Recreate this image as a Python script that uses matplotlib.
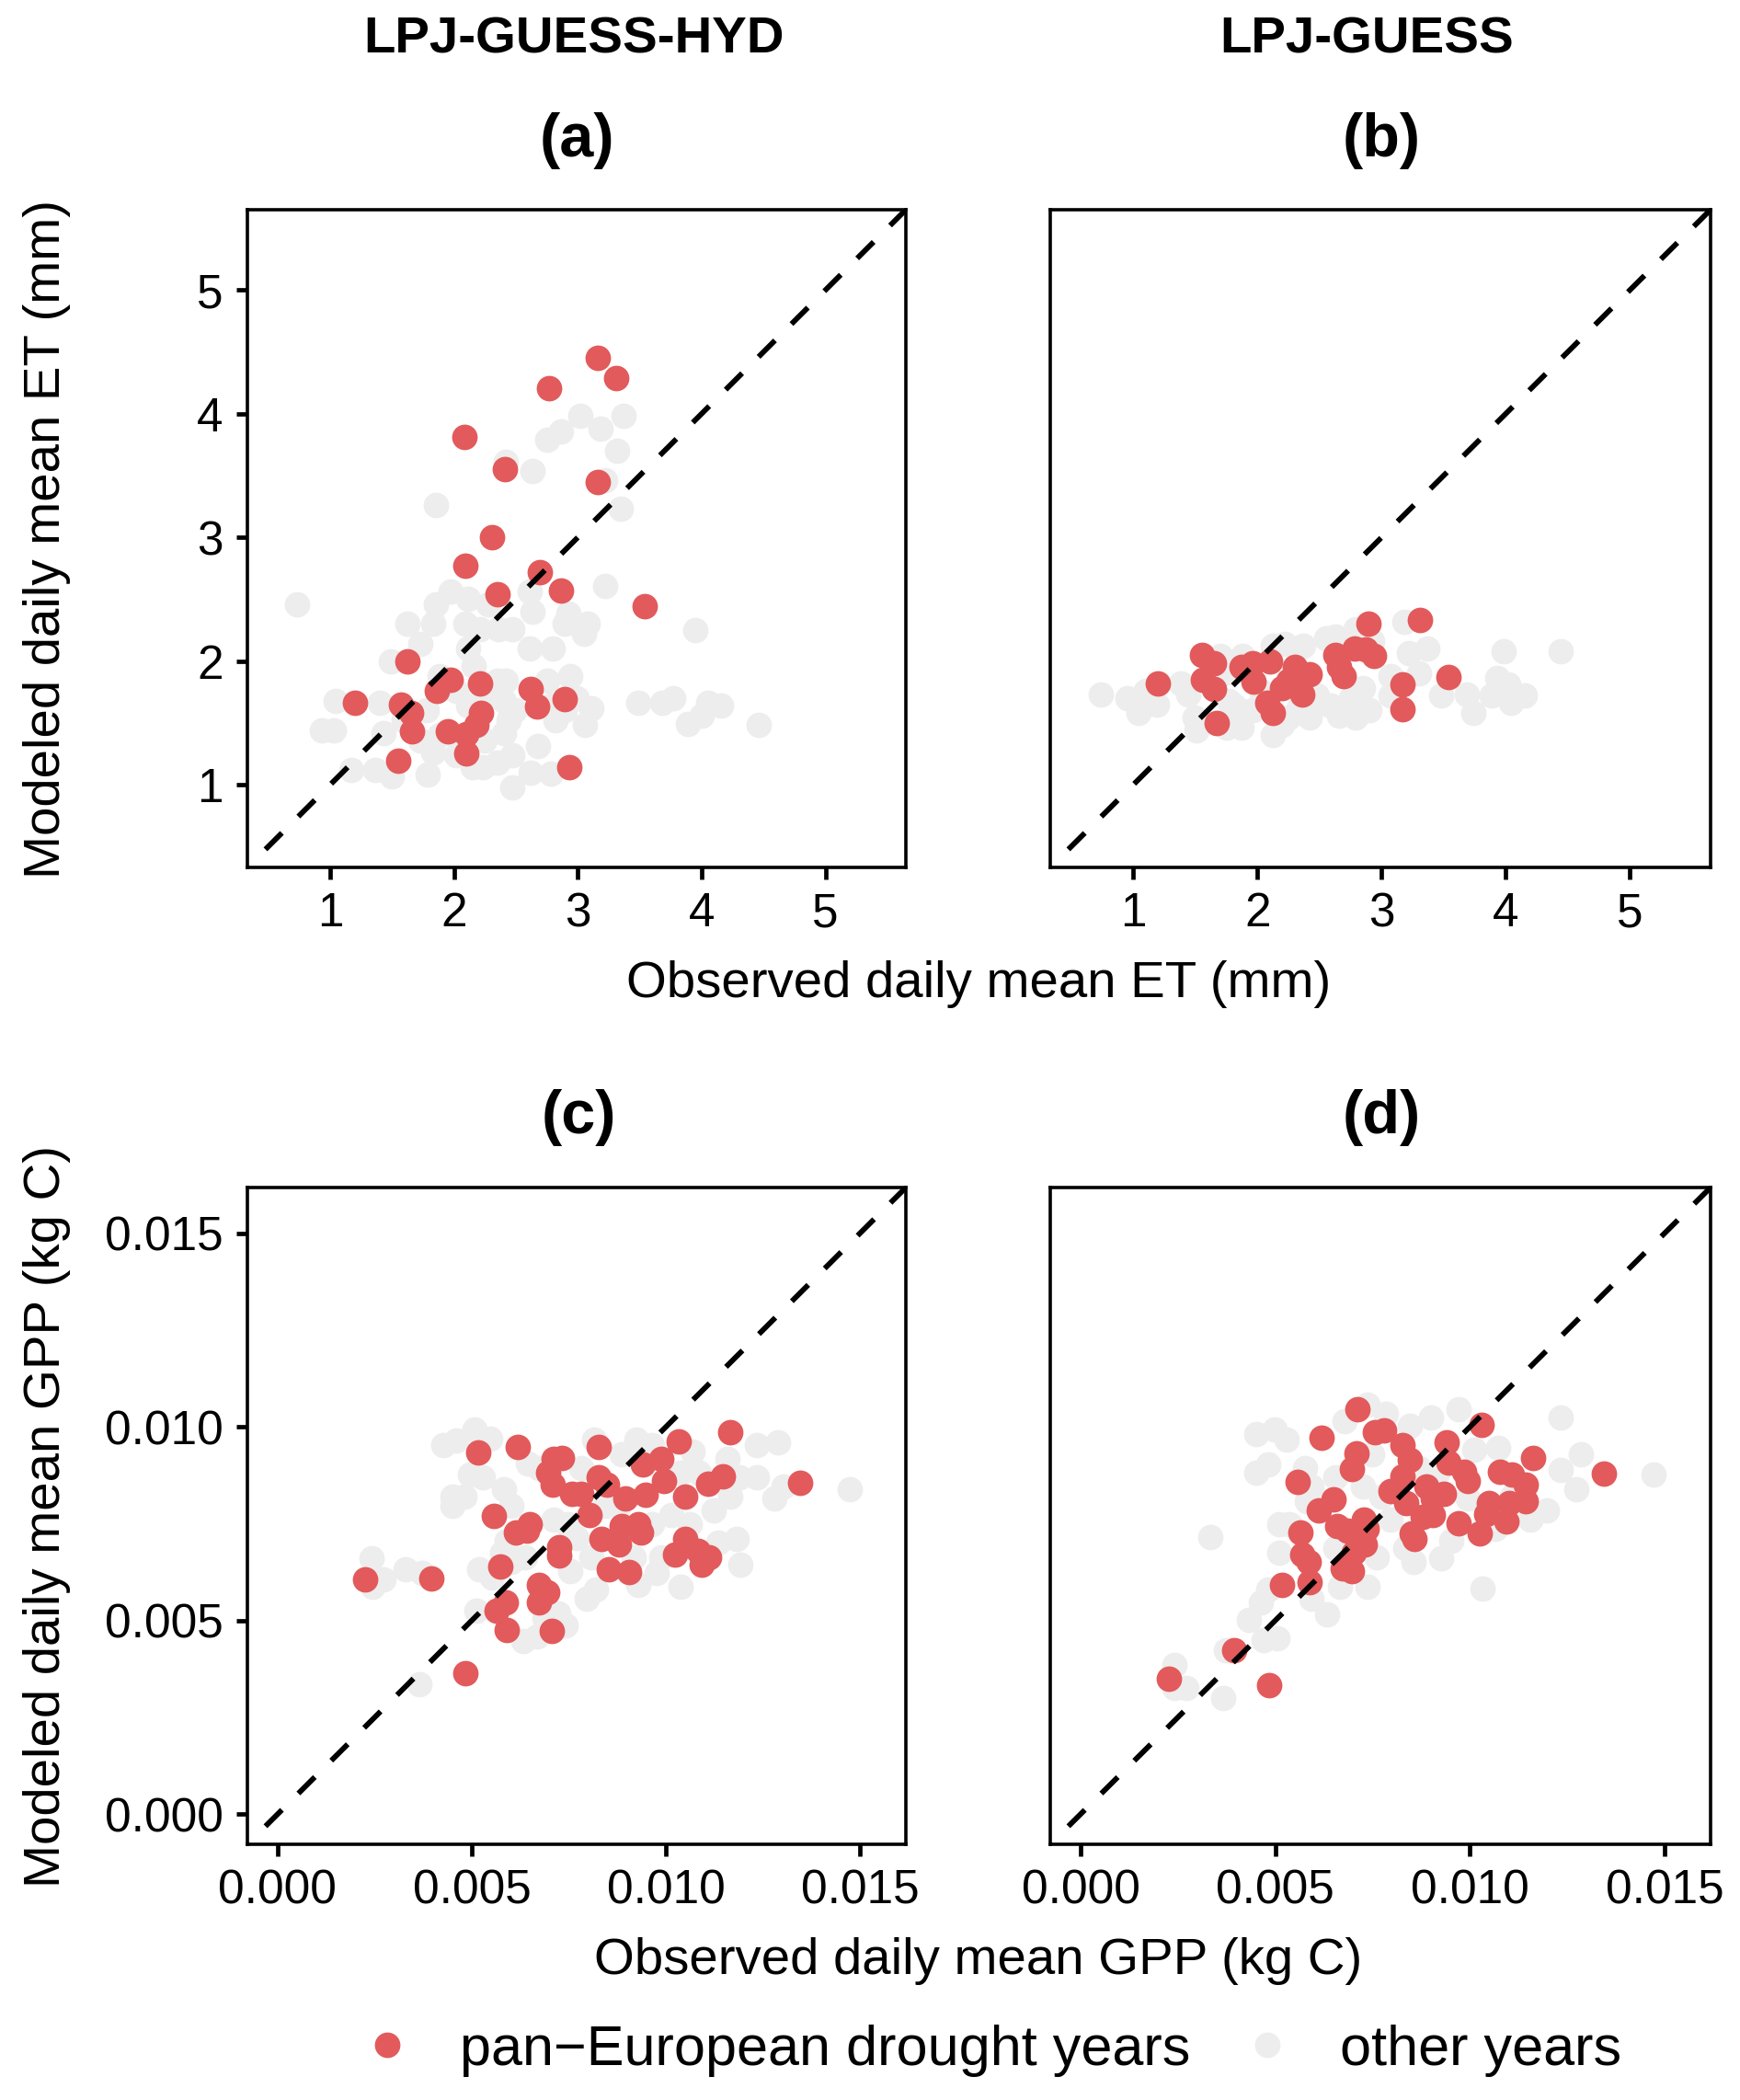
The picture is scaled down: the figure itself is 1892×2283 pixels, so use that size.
import numpy as np
import matplotlib.pyplot as plt
from matplotlib.lines import Line2D

plt.rcParams['font.family'] = ['Liberation Sans', 'DejaVu Sans']

# === Datos ===
# ET, LPJ-GUESS-HYD (a)
a_red_x = [3.16, 3.31, 2.77, 2.08, 2.41, 3.16, 2.31, 2.09, 2.69, 2.35, 2.86, 3.54, 1.62, 1.97, 1.86,
           2.21, 1.20, 1.57, 1.65, 1.66, 1.95, 2.10, 2.18, 2.22, 2.62, 2.67, 2.89, 2.10, 1.55, 2.93]
a_red_y = [4.45, 4.29, 4.21, 3.81, 3.55, 3.45, 3.00, 2.77, 2.72, 2.54, 2.57, 2.44, 2.00, 1.85, 1.76,
           1.82, 1.66, 1.65, 1.58, 1.43, 1.43, 1.41, 1.48, 1.58, 1.77, 1.63, 1.69, 1.25, 1.19, 1.14]
a_grey_x = [0.73, 1.85, 2.42, 2.63, 2.75, 2.86, 3.02, 3.18, 3.37, 3.32, 3.22, 3.35, 3.22, 3.95, 4.46,
            3.89, 4.00, 4.05, 4.16, 3.49, 3.68, 3.77, 3.11, 3.06, 3.05, 3.08, 2.92, 2.89, 2.94, 2.80,
            2.61, 2.63, 2.61, 2.47, 2.36, 2.21, 2.09, 2.28, 2.11, 1.97, 1.85, 1.83, 1.62, 1.73, 1.49,
            2.11, 2.16, 1.88, 2.42, 2.40, 2.49, 2.44, 2.40, 2.75, 2.82, 2.78, 2.99, 2.89, 2.68, 2.47,
            2.62, 2.78, 2.47, 2.23, 2.15, 2.02, 1.79, 1.83, 1.73, 1.50, 1.36, 1.17, 1.43, 1.40, 1.04,
            0.93, 1.03, 1.59, 1.78, 1.88, 2.04, 2.25, 2.35, 2.11, 2.28, 2.35, 2.02]
a_grey_y = [2.46, 3.26, 3.61, 3.54, 3.79, 3.86, 3.98, 3.88, 3.98, 3.70, 3.46, 3.23, 2.61, 2.25, 1.48,
            1.49, 1.56, 1.66, 1.64, 1.66, 1.66, 1.70, 1.62, 1.48, 2.22, 2.30, 2.38, 2.30, 1.88, 2.10,
            2.10, 2.40, 2.56, 2.26, 2.26, 2.26, 2.30, 2.46, 2.50, 2.56, 2.46, 2.30, 2.30, 2.14, 2.00,
            2.10, 1.96, 1.88, 1.84, 1.68, 1.60, 1.52, 1.42, 1.84, 1.52, 1.64, 1.70, 1.60, 1.31, 1.24,
            1.10, 1.09, 0.98, 1.14, 1.14, 1.24, 1.08, 1.26, 1.36, 1.07, 1.12, 1.12, 1.42, 1.66, 1.68,
            1.44, 1.44, 1.52, 1.60, 1.40, 1.36, 1.36, 1.18, 1.64, 1.72, 1.84, 1.76]

# ET, LPJ-GUESS (b)
b_red_x = [1.20, 1.55, 1.65, 1.56, 1.65, 1.67, 1.87, 1.96, 1.97, 2.10, 2.08, 2.12, 2.20, 2.30,
           2.25, 2.42, 2.36, 2.63, 2.66, 2.69, 2.78, 2.87, 2.94, 2.89, 3.31, 3.17, 3.17, 3.54]
b_red_y = [1.82, 2.05, 1.98, 1.85, 1.77, 1.50, 1.95, 1.98, 1.83, 2.00, 1.66, 1.58, 1.78, 1.95,
           1.84, 1.89, 1.73, 2.05, 1.95, 1.88, 2.10, 2.09, 2.04, 2.30, 2.33, 1.81, 1.61, 1.87]
b_grey_x = [0.74, 0.95, 1.04, 1.10, 1.19, 1.38, 1.44, 1.49, 1.51, 1.70, 1.75, 1.87, 1.81, 1.88,
            2.12, 2.12, 2.22, 2.37, 2.25, 2.42, 2.48, 2.55, 2.63, 2.66, 2.79, 2.79, 2.90, 2.92,
            3.07, 3.18, 3.22, 3.37, 3.30, 3.48, 3.69, 3.74, 3.89, 3.93, 4.02, 4.04, 4.15, 3.98,
            4.44, 3.07, 2.03, 1.96, 2.40, 2.59, 2.75, 2.85, 2.33, 2.20, 1.73, 1.77]
b_grey_y = [1.73, 1.70, 1.58, 1.76, 1.65, 1.82, 1.73, 1.54, 1.44, 2.04, 1.46, 1.46, 1.64, 2.04,
            1.40, 2.12, 2.14, 2.12, 1.54, 1.54, 1.72, 2.18, 2.20, 1.56, 1.54, 2.26, 1.60, 2.16,
            1.88, 2.32, 2.06, 2.10, 1.90, 1.72, 1.73, 1.58, 1.72, 1.86, 1.81, 1.66, 1.72, 2.08,
            2.08, 1.72, 1.76, 1.60, 1.64, 1.64, 1.70, 1.78, 1.62, 1.48, 1.90, 1.68]

# GPP, LPJ-GUESS-HYD (c)
c_red_x = [0.00226, 0.00396, 0.00483, 0.00517, 0.00619, 0.00557, 0.00573, 0.00565, 0.00587, 0.00590,
           0.00705, 0.00614, 0.00650, 0.00642, 0.00674, 0.00695, 0.00674, 0.00726, 0.00726, 0.00711,
           0.00732, 0.00696, 0.00708, 0.00759, 0.00781, 0.00803, 0.00828, 0.00828, 0.00847, 0.00835,
           0.00880, 0.00886, 0.00929, 0.00935, 0.00854, 0.00904, 0.00895, 0.00947, 0.00941, 0.00989,
           0.00995, 0.01032, 0.01050, 0.01050, 0.01023, 0.01082, 0.01110, 0.01092, 0.01108, 0.01147,
           0.01165, 0.01346]
c_red_y = [0.00606, 0.00609, 0.00365, 0.00935, 0.00947, 0.00771, 0.00639, 0.00525, 0.00546, 0.00475,
           0.00473, 0.00728, 0.00749, 0.00731, 0.00592, 0.00574, 0.00547, 0.00690, 0.00667, 0.00918,
           0.00920, 0.00882, 0.00851, 0.00827, 0.00827, 0.00773, 0.00948, 0.00870, 0.00851, 0.00710,
           0.00697, 0.00743, 0.00749, 0.00728, 0.00632, 0.00624, 0.00815, 0.00824, 0.00902, 0.00918,
           0.00860, 0.00963, 0.00821, 0.00710, 0.00670, 0.00679, 0.00662, 0.00643, 0.00854, 0.00872,
           0.00985, 0.00855]
c_grey_x = [0.00242, 0.00245, 0.00272, 0.00329, 0.00372, 0.00366, 0.00511, 0.00519, 0.00553, 0.00450,
            0.00450, 0.00481, 0.00426, 0.00460, 0.00507, 0.00547, 0.00495, 0.00529, 0.00584, 0.00644,
            0.00674, 0.00602, 0.00590, 0.00578, 0.00602, 0.00638, 0.00632, 0.00668, 0.00741, 0.00686,
            0.00723, 0.00711, 0.00747, 0.00771, 0.00753, 0.00795, 0.00820, 0.00783, 0.00814, 0.00886,
            0.00923, 0.00965, 0.01068, 0.01086, 0.01038, 0.01159, 0.01189, 0.01165, 0.01122, 0.01183,
            0.01134, 0.01191, 0.01038, 0.00977, 0.00929, 0.00965, 0.01013, 0.01062, 0.00989, 0.00916,
            0.00880, 0.01234, 0.01289, 0.01234, 0.01280, 0.01304, 0.01473, 0.00844, 0.00808]
c_grey_y = [0.00661, 0.00586, 0.00606, 0.00632, 0.00622, 0.00335, 0.00525, 0.00632, 0.00612, 0.00821,
            0.00795, 0.00821, 0.00952, 0.00964, 0.00993, 0.00970, 0.00876, 0.00870, 0.00839, 0.00906,
            0.00894, 0.00797, 0.00707, 0.00676, 0.00652, 0.00664, 0.00447, 0.00459, 0.00487, 0.00507,
            0.00519, 0.00761, 0.00749, 0.00713, 0.00628, 0.00556, 0.00580, 0.00894, 0.00966, 0.00930,
            0.00966, 0.00954, 0.00936, 0.00882, 0.00882, 0.00918, 0.00870, 0.00821, 0.00785, 0.00710,
            0.00700, 0.00644, 0.00586, 0.00622, 0.00592, 0.00749, 0.00773, 0.00749, 0.00664, 0.00664,
            0.00797, 0.00954, 0.00960, 0.00870, 0.00815, 0.00845, 0.00839, 0.00797, 0.00664]

# GPP, LPJ-GUESS (d)
d_red_x = [0.00227, 0.00394, 0.00484, 0.00517, 0.00588, 0.00558, 0.00564, 0.00570, 0.00585, 0.00618,
           0.00612, 0.00650, 0.00660, 0.00684, 0.00672, 0.00696, 0.00702, 0.00731, 0.00728, 0.00735,
           0.00696, 0.00708, 0.00710, 0.00755, 0.00779, 0.00827, 0.00845, 0.00827, 0.00797, 0.00835,
           0.00851, 0.00857, 0.00878, 0.00905, 0.00887, 0.00905, 0.00934, 0.00940, 0.00944, 0.00984,
           0.00994, 0.00970, 0.01024, 0.01029, 0.01048, 0.01042, 0.01078, 0.01107, 0.01101, 0.01093,
           0.01143, 0.01143, 0.01163, 0.01344]
d_red_y = [0.00350, 0.00423, 0.00332, 0.00592, 0.00598, 0.00857, 0.00727, 0.00670, 0.00652, 0.00972,
           0.00785, 0.00812, 0.00743, 0.00731, 0.00634, 0.00628, 0.00674, 0.00697, 0.00761, 0.00737,
           0.00891, 0.00932, 0.01045, 0.00987, 0.00990, 0.00952, 0.00914, 0.00872, 0.00833, 0.00803,
           0.00725, 0.00710, 0.00767, 0.00773, 0.00845, 0.00815, 0.00827, 0.00960, 0.00908, 0.00885,
           0.00860, 0.00751, 0.00725, 0.01006, 0.00803, 0.00775, 0.00884, 0.00878, 0.00803, 0.00755,
           0.00851, 0.00809, 0.00920, 0.00879]
d_grey_x = [0.00242, 0.00242, 0.00272, 0.00365, 0.00374, 0.00332, 0.00433, 0.00463, 0.00469, 0.00505,
            0.00481, 0.00511, 0.00511, 0.00451, 0.00499, 0.00529, 0.00451, 0.00481, 0.00582, 0.00576,
            0.00594, 0.00634, 0.00666, 0.00737, 0.00761, 0.00678, 0.00737, 0.00785, 0.00845, 0.00899,
            0.00970, 0.01072, 0.01233, 0.01286, 0.01233, 0.01274, 0.01471, 0.01197, 0.01155, 0.01066,
            0.01033, 0.00926, 0.00854, 0.00833, 0.00952, 0.00773, 0.00797, 0.00725, 0.00654, 0.00594,
            0.00994, 0.01012, 0.01107, 0.00869, 0.00916, 0.00749, 0.00535, 0.00654]
d_grey_y = [0.00386, 0.00326, 0.00326, 0.00300, 0.00423, 0.00715, 0.00501, 0.00546, 0.00449, 0.00453,
            0.00580, 0.00749, 0.00676, 0.00981, 0.00994, 0.00966, 0.00882, 0.00903, 0.00809, 0.00894,
            0.00556, 0.00517, 0.00586, 0.00586, 0.00664, 0.01014, 0.01057, 0.01033, 0.01002, 0.01023,
            0.01045, 0.00946, 0.01023, 0.00928, 0.00888, 0.00839, 0.00878, 0.00785, 0.00761, 0.00737,
            0.00582, 0.00661, 0.00652, 0.00688, 0.00707, 0.00821, 0.00761, 0.00845, 0.00870, 0.00845,
            0.00815, 0.00942, 0.00821, 0.00894, 0.00882, 0.00930, 0.00749, 0.00688]

et_lims = (0.33, 5.65)
et_ticks = [1, 2, 3, 4, 5]
gpp_lims = (-0.00078, 0.01618)
gpp_ticks = [0.000, 0.005, 0.010, 0.015]

ROJO = '#E25A5B'
GRIS = '#EDEDED'

# === Figura ===
W, H = 1892, 2283
fig = plt.figure(figsize=(W / 200, H / 200), dpi=200)


def caja(l, t, r, b):
    # convierte píxeles (izq, arriba, der, abajo) a fracciones de figura
    return [l / W, 1 - b / H, (r - l) / W, (b - t) / H]


def panel(rect, gx, gy, rx, ry, lims, ticks, fmt, ylabels):
    ax = fig.add_axes(rect)
    ax.scatter(gx, gy, s=100, color=GRIS, linewidths=0, zorder=2)
    ax.scatter(rx, ry, s=100, color=ROJO, linewidths=0, zorder=3)
    # línea 1:1 discontinua de esquina a esquina
    ax.plot(lims, lims, color='black', lw=2.1, linestyle=(3.9, (4.33, 4.33)), zorder=4)
    ax.set_xlim(lims)
    ax.set_ylim(lims)
    ax.set_xticks(ticks)
    ax.set_xticklabels([fmt.format(t) for t in ticks])
    ax.tick_params(direction='out', length=4.5, width=1.7, labelsize=18.5, pad=5, colors='black')
    if ylabels:
        ax.set_yticks(ticks)
        ax.set_yticklabels([fmt.format(t) for t in ticks])
    else:
        ax.set_yticks([])
    for sp in ax.spines.values():
        sp.set_linewidth(1.3)
    return ax


panel(caja(269, 228, 985, 943), a_grey_x, a_grey_y, a_red_x, a_red_y, et_lims, et_ticks, '{:d}', True)
panel(caja(1142, 228, 1860, 943), b_grey_x, b_grey_y, b_red_x, b_red_y, et_lims, et_ticks, '{:d}', False)
panel(caja(269, 1291, 985, 2005), c_grey_x, c_grey_y, c_red_x, c_red_y, gpp_lims, gpp_ticks, '{:.3f}', True)
panel(caja(1142, 1291, 1860, 2005), d_grey_x, d_grey_y, d_red_x, d_red_y, gpp_lims, gpp_ticks, '{:.3f}', False)


def texto(x, y, s, **kw):
    fig.text(x / W, 1 - y / H, s, ha='center', va='center', **kw)


texto(624, 44, 'LPJ-GUESS-HYD', fontsize=20.3, fontweight='bold')
texto(1486, 44, 'LPJ-GUESS', fontsize=20.3, fontweight='bold')
texto(627, 153, '(a)', fontsize=24, fontweight='bold')
texto(1502, 153, '(b)', fontsize=24, fontweight='bold')
texto(629, 1215, '(c)', fontsize=24, fontweight='bold')
texto(1502, 1215, '(d)', fontsize=24, fontweight='bold')
texto(1064, 1070, 'Observed daily mean ET (mm)', fontsize=20.3)
texto(1064, 2132, 'Observed daily mean GPP (kg C)', fontsize=20.3)
texto(51, 586, 'Modeled daily mean ET (mm)', fontsize=20.3, rotation=90)
texto(51, 1648, 'Modeled daily mean GPP (kg C)', fontsize=20.3, rotation=90)

# Leyenda
manejadores = [
    Line2D([], [], marker='o', linestyle='none', markersize=10, color=ROJO, markeredgewidth=0),
    Line2D([], [], marker='o', linestyle='none', markersize=10, color=GRIS, markeredgewidth=0),
]
fig.legend(manejadores, ['pan\u2212European drought years', 'other years'],
           loc='center', bbox_to_anchor=(1077 / W, 1 - 2229 / H), ncol=2, frameon=False,
           fontsize=22, handlelength=1.0, handletextpad=0.8, columnspacing=0.86)

fig.savefig('out.png', dpi=200)
